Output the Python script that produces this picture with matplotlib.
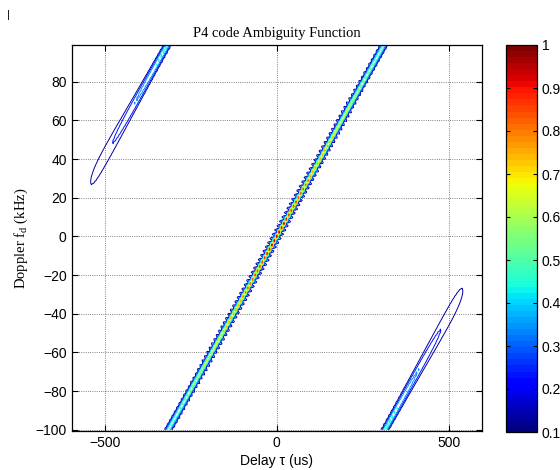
import numpy as np
import matplotlib
matplotlib.use("Agg")
import matplotlib.pyplot as plt
from matplotlib.colors import Normalize
from matplotlib.cm import ScalarMappable

n_chips = 90             # number of chips
lag_step_us = 7.0        # delay per chip lag on the x axis
doppler_span_khz = 200.0 # Doppler period of the sampled code (alias spacing)
fd_khz = np.arange(-100, 99.01, 0.5)    # Doppler grid (kHz)

levels = [0.14, 0.24, 0.34, 0.44, 0.54, 0.64, 0.74, 0.84, 0.94]
cbar_ticks = [0.1, 0.2, 0.3, 0.4, 0.5, 0.6, 0.7, 0.8, 0.9, 1.0]
cbar_labels = ["0.1", "0.2", "0.3", "0.4", "0.5", "0.6", "0.7", "0.8", "0.9", "1"]
xticks = [-500, 0, 500]
yticks = [-100, -80, -60, -40, -20, 0, 20, 40, 60, 80]

# P4 phase sequence, one sample per chip
n = np.arange(n_chips)
code = np.exp(1j * (np.pi * n**2 / n_chips - np.pi * n))

lags = np.arange(-(n_chips - 1), n_chips)
amb = np.zeros((len(fd_khz), len(lags)))
for i, k in enumerate(lags):
    if k >= 0:
        prod = code[:n_chips - k] * np.conj(code[k:])
        idx = n[:n_chips - k]
    else:
        prod = code[-k:] * np.conj(code[:n_chips + k])
        idx = n[-k:]
    ph = np.exp(2j * np.pi * np.outer(fd_khz / doppler_span_khz, idx))
    amb[:, i] = np.abs(ph @ prod) / n_chips
tau_us = lags * lag_step_us

W, H = 560, 470
fig = plt.figure(figsize=(5.6, 4.7), dpi=100)
ax = fig.add_axes([71.5 / W, 1 - 430.7 / H, (482.3 - 71.5) / W, (430.7 - 45.3) / H])
cax = fig.add_axes([506 / W, 1 - 432 / H, 30.7 / W, (432 - 45) / H])

cmap = plt.get_cmap("jet", 64)
norm = Normalize(0.1, 1.0)
ax.contour(tau_us, fd_khz, amb, levels=levels, cmap=cmap, norm=norm, linewidths=0.7)

ax.set_xlim(-597, 598)
ax.set_ylim(-100.5, 98.8)
ax.set_xticks(xticks)
ax.set_yticks(yticks)
ax.grid(True, color="0.35", linestyle=":", linewidth=0.6)
ax.tick_params(direction="in", top=True, right=True, length=4, labelsize=10)
for lab in ax.get_xticklabels() + ax.get_yticklabels():
    lab.set_family("Liberation Sans")
for sp in ax.spines.values():
    sp.set_linewidth(0.9)

ax.set_title("P4 code Ambiguity Function", family="Liberation Serif", fontsize=10.5, pad=6)
ax.set_xlabel("Delay \u03c4 (us)", family="Liberation Sans", fontsize=10, labelpad=3)
ax.set_ylabel("Doppler f$_\\mathregular{d}$ (kHz)", family="Liberation Serif", fontsize=10.5, labelpad=4)

cb = fig.colorbar(ScalarMappable(norm=norm, cmap=cmap), cax=cax)
cb.set_ticks(cbar_ticks)
cb.set_ticklabels(cbar_labels)
cax.tick_params(direction="in", left=True, right=True, length=3, labelsize=10)
for lab in cax.get_yticklabels():
    lab.set_family("Liberation Sans")
cb.outline.set_linewidth(0.9)

fig.text(7 / W, 1 - 18 / H, "|", fontsize=8, family="Liberation Sans")

fig.savefig("out.png", dpi=100)
